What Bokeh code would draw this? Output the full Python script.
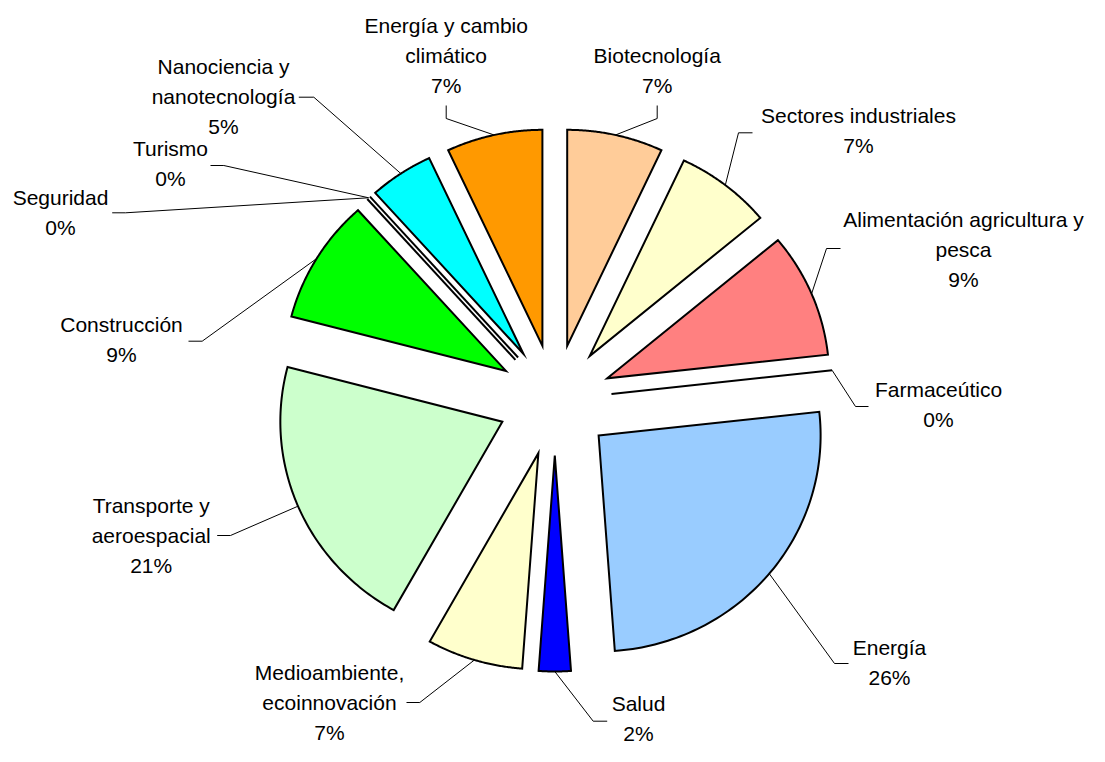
import numpy as np
from bokeh.plotting import figure
from bokeh.models import Range1d, ColumnDataSource
from bokeh.embed import file_html
from bokeh.resources import INLINE
from bokeh.core.properties import value

# ---------------- data (clockwise from 12 o'clock) ----------------
categories = ["Biotecnología", "Sectores industriales",
              "Alimentación agricultura y pesca", "Farmaceútico", "Energía",
              "Salud", "Medioambiente, ecoinnovación",
              "Transporte y aeroespacial", "Construcción", "Seguridad",
              "Turismo", "Nanociencia y nanotecnología",
              "Energía y cambio climático"]
counts = [3, 3, 4, 0, 11, 1, 3, 9, 4, 0, 0, 2, 3]
label_lines = [["Biotecnología"], ["Sectores industriales"],
               ["Alimentación agricultura y", "pesca"], ["Farmaceútico"],
               ["Energía"], ["Salud"], ["Medioambiente,", "ecoinnovación"],
               ["Transporte y", "aeroespacial"], ["Construcción"],
               ["Seguridad"], ["Turismo"], ["Nanociencia y", "nanotecnología"],
               ["Energía y cambio", "climático"]]
colors = ["#FFCC99", "#FFFFCC", "#FF8080", "#FFFFFF", "#99CCFF", "#0000FF",
          "#FFFFCC", "#CCFFCC", "#00FF00", "#FFFFFF", "#FFFFFF", "#00FFFF",
          "#FF9900"]

# ---------------- layout (page pixel coordinates) ----------------
# label block: centre x, first line y ; leader: end point, knee point
label_layout = [
    (656.7, 55, (656.7, 105), (656.7, 118)),
    (858, 115, (752, 132.3), (738, 132.3)),
    (963, 219, (840, 248), (826, 248)),
    (938, 389, (868, 406), (855, 406)),
    (889, 646.7, (848, 663), (834, 663)),
    (638, 703, (606.7, 720.7), (592.7, 720.7)),
    (329, 672, (406, 702), (419.3, 702)),
    (150.7, 505, (216.7, 535), (230, 535)),
    (121, 324, (188, 340.7), (201.7, 340.7)),
    (60, 196.7, (111.7, 212.3), (125, 212.3)),
    (170, 148, (210, 165), (223.3, 165)),
    (223, 65.7, (298.3, 96.7), (313.3, 96.7)),
    (445.7, 25, (445.7, 105), (445.7, 118)),
]
LINE_GAP = 30
H = 762


def Y(y_img):
    return H - y_img


CX, CY = 554.3, Y(399.5)
RX, RY = 222.0, 216.0
DX, DY = 57.0, 55.5

total = float(sum(counts))
frac = np.array(counts) / total
ends = np.cumsum(frac) * 2 * np.pi
starts = ends - frac * 2 * np.pi
mids = (starts + ends) / 2

p = figure(width=1089, height=746, x_range=Range1d(0, 1089),
           y_range=Range1d(16, 762), min_border=0, toolbar_location=None,
           output_backend="svg", x_axis_type=None, y_axis_type=None)
p.outline_line_color = None
p.grid.visible = False
p.background_fill_color = "white"
p.border_fill_color = "white"

pxs, pys, pcols = [], [], []
zx, zy = [], []
lead_x, lead_y = [], []
tx, ty, tt = [], [], []
zero_seen = {}
for i, c in enumerate(counts):
    m = mids[i]
    ox = CX + DX * np.sin(m)
    oy = CY + DY * np.cos(m)
    if c > 0:
        t = np.linspace(starts[i], ends[i], 80)
        pxs.append([ox] + list(ox + RX * np.sin(t)))
        pys.append([oy] + list(oy + RY * np.cos(t)))
        pcols.append(colors[i])
    else:
        key = round(m, 4)
        k = zero_seen.get(key, 0)
        zero_seen[key] = k + 1
        same = sum(1 for j, cc in enumerate(counts)
                   if cc == 0 and abs(mids[j] - m) < 1e-6)
        off = 0.0 if same == 1 else (k - (same - 1) / 2) * 3.6
        nx, ny = np.cos(m), -np.sin(m)
        zx.append([ox + off * nx, ox + RX * np.sin(m) + off * nx])
        zy.append([oy + off * ny, oy + RY * np.cos(m) + off * ny])
    # leader line from the middle of the slice's arc
    sx = ox + RX * np.sin(m)
    sy = oy + RY * np.cos(m)
    cx_l, fy, end, knee = label_layout[i]
    lead_x.append([sx, knee[0], end[0]])
    lead_y.append([sy, Y(knee[1]), Y(end[1])])
    pct = "%d%%" % int(round(c / total * 100))
    for k, line in enumerate(label_lines[i] + [pct]):
        tx.append(cx_l)
        ty.append(Y(fy + k * LINE_GAP))
        tt.append(line)

p.multi_line(xs=lead_x, ys=lead_y, line_color="#000000", line_width=1)
p.patches(xs=pxs, ys=pys, fill_color=pcols, line_color="black",
          line_width=2, line_join="miter")
p.multi_line(xs=zx, ys=zy, line_color="black", line_width=2)

src = ColumnDataSource(dict(x=tx, y=ty, text=tt))
p.text(x="x", y="y", text="text", source=src, text_align="center",
       text_baseline="middle", text_font=value("Liberation Sans"),
       text_font_size="21px", text_color="black")

open("out.html", "w").write(file_html(p, INLINE))
